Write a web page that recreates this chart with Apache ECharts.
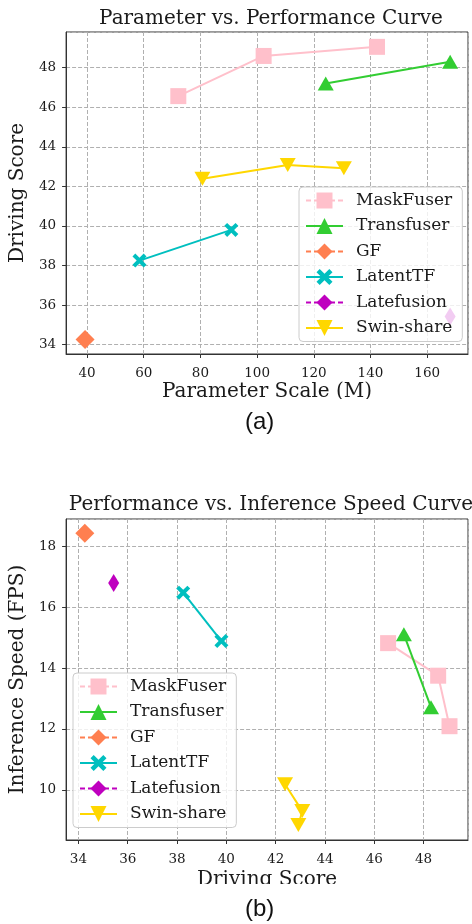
<!DOCTYPE html>
<html>
<head>
<meta charset="utf-8">
<script src="https://cdn.jsdelivr.net/npm/echarts@6/dist/echarts.min.js"></script>
<style>
  html, body { margin: 0; padding: 0; background: #fff; }
  #chart { width: 472px; height: 924px; }
</style>
</head>
<body>
<div id="chart"></div>
<script>
// model names, in legend order
const names = ['MaskFuser', 'Transfuser', 'GF', 'LatentTF', 'Latefusion', 'Swin-share']
// parameter scale (M) per model
const paramScale = [[72.2, 102.3, 142.3], [124.2, 168.1], [39.3], [58.5, 90.9], [168.1], [80.7, 110.8, 130.6]]
// driving score per model
const drivingScore = [[46.56, 48.59, 49.05], [47.2, 48.3], [34.26], [38.25, 39.8], [35.43], [42.38, 43.08, 42.92]]
// inference speed (FPS) per model
const fps = [[14.82, 13.75, 12.09], [15.11, 12.71], [18.43], [16.48, 14.89], [16.8], [10.18, 9.3, 8.84]]

const colors = ['#FFC0CB', '#32CD32', '#FF7F50', '#00BFBF', '#BF00BF', '#FFD700']
const dashedLegend = [true, false, true, false, true, false]
const X_PATH = 'path://M0,2 L2,0 L5,3 L8,0 L10,2 L7,5 L10,8 L8,10 L5,7 L2,10 L0,8 L3,5 Z'
const TRI_DOWN = 'path://M0,0 L10,0 L5,9 Z'
const symbols = ['rect', 'triangle', 'diamond', X_PATH, 'diamond', TRI_DOWN]
const symbolSizes = [[16, 16], [16, 14], [19, 19], [14, 14], [11, 18], [16, 14]]

const SERIF = 'DejaVu Serif'
const TXT = '#1a1a1a'

function makeSeries (xs, ys, gridIdx) {
  return names.map((name, i) => ({
    name: name,
    type: 'line',
    xAxisIndex: gridIdx,
    yAxisIndex: gridIdx,
    data: xs[i].map((x, j) => [x, ys[i][j]]),
    symbol: symbols[i],
    symbolSize: symbolSizes[i],
    symbolKeepAspect: false,
    showAllSymbol: true,
    color: colors[i],
    lineStyle: { width: 2, color: colors[i] },
    itemStyle: { color: colors[i] },
    z: 3
  }))
}

function valueAxis (gridIdx, min, max, splitNumber, name, pos, nameGap, labelMargin) {
  return {
    type: 'value',
    gridIndex: gridIdx,
    position: pos,
    min: min,
    max: max,
    splitNumber: splitNumber,
    name: name,
    nameLocation: 'middle',
    nameGap: nameGap,
    nameTextStyle: { fontFamily: SERIF, fontSize: 20, color: TXT },
    axisLine: { show: true, onZero: false, lineStyle: { color: '#333', width: 1 } },
    axisTick: { show: true, inside: false, length: 4, lineStyle: { color: '#333' } },
    axisLabel: {
      fontFamily: SERIF, fontSize: 13.5, color: TXT, margin: labelMargin,
      showMinLabel: false, showMaxLabel: false
    },
    splitLine: { show: true, lineStyle: { color: '#b0b0b0', type: [4, 2], width: 1 } }
  }
}

function legendBox (left, top) {
  return {
    data: names.map((n, i) => ({
      name: n,
      lineStyle: { type: dashedLegend[i] ? [5, 3] : 'solid', width: 2 }
    })),
    orient: 'vertical',
    left: left,
    top: top,
    itemWidth: 37,
    itemHeight: 20,
    itemGap: 8.5,
    padding: [5, 10, 5, 6],
    backgroundColor: 'rgba(255,255,255,0.8)',
    borderColor: '#cccccc',
    borderWidth: 1,
    borderRadius: 4,
    textStyle: { fontFamily: SERIF, fontSize: 17, color: TXT, padding: [0, 0, 0, 8] },
    z: 10
  }
}

const chart = echarts.init(document.getElementById('chart'), null, { renderer: 'canvas' })

chart.setOption({
  animation: false,
  backgroundColor: '#fff',
  title: [
    {
      text: 'Parameter vs. Performance Curve',
      left: 266, top: 4, textAlign: 'center',
      textStyle: { fontFamily: SERIF, fontSize: 20, fontWeight: 'normal', color: TXT }
    },
    {
      text: 'Performance vs. Inference Speed Curve',
      left: 266, top: 490, textAlign: 'center',
      textStyle: { fontFamily: SERIF, fontSize: 20, fontWeight: 'normal', color: TXT }
    }
  ],
  grid: [
    { left: 64, top: 32, right: 4, bottom: 924 - 354, show: true, borderColor: '#333', borderWidth: 1, backgroundColor: 'transparent' },
    { left: 64, top: 519, right: 4, bottom: 924 - 840, show: true, borderColor: '#333', borderWidth: 1, backgroundColor: 'transparent' }
  ],
  xAxis: [
    valueAxis(0, 32.6, 174.4, 7, 'Parameter Scale (M)', 'bottom', 28, 12),
    valueAxis(1, 33.5, 49.8, 8, 'Driving Score', 'bottom', 30, 12)
  ],
  yAxis: [
    valueAxis(0, 33.53, 49.8, 8, 'Driving Score', 'left', 33, 10),
    valueAxis(1, 8.35, 18.9, 5, 'Inference Speed (FPS)', 'left', 33, 10)
  ],
  legend: [legendBox(299, 187), legendBox(73, 673)],
  series: makeSeries(paramScale, drivingScore, 0).concat(makeSeries(drivingScore, fps, 1)),
  graphic: [
    // the axis names are cut at the bottom in the original figure
    { type: 'rect', shape: { x: 120, y: 399, width: 300, height: 11 }, style: { fill: '#fff' }, z: 100 },
    { type: 'rect', shape: { x: 120, y: 884, width: 300, height: 12 }, style: { fill: '#fff' }, z: 100 },
    {
      type: 'text', left: 245, top: 410, z: 100,
      style: { text: '(a)', font: '24px "Liberation Sans"', fill: '#111' }
    },
    {
      type: 'text', left: 245, top: 897, z: 100,
      style: { text: '(b)', font: '24px "Liberation Sans"', fill: '#111' }
    }
  ]
})
</script>
</body>
</html>
